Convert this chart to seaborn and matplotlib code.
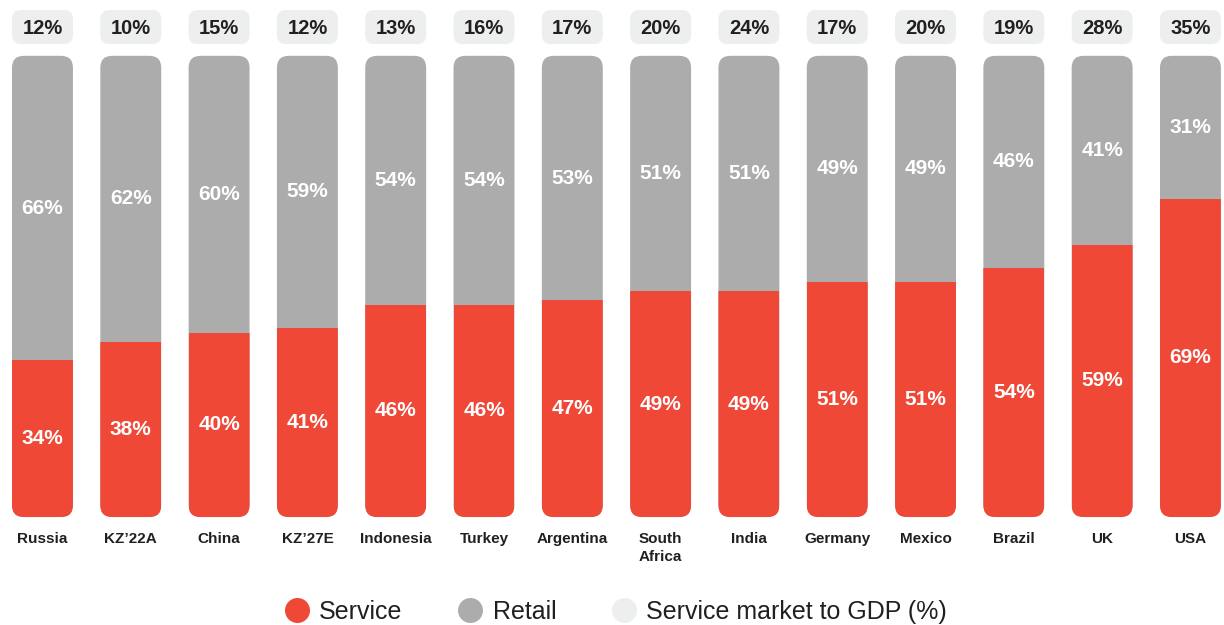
import matplotlib
matplotlib.use("Agg")
import matplotlib.pyplot as plt
import seaborn as sns
import pandas as pd
from matplotlib.patches import FancyBboxPatch
from matplotlib.lines import Line2D

# ---- data ----
countries = ["Russia", "KZ’22A", "China", "KZ’27E", "Indonesia", "Turkey", "Argentina",
             "South\nAfrica", "India", "Germany", "Mexico", "Brazil", "UK", "USA"]
service = [34, 38, 40, 41, 46, 46, 47, 49, 49, 51, 51, 54, 59, 69]
retail = [66, 62, 60, 59, 54, 54, 53, 51, 51, 49, 49, 46, 41, 31]
gdp_share = [12, 10, 15, 12, 13, 16, 17, 20, 24, 17, 20, 19, 28, 35]

RED = "#EF4837"
GRAY = "#ABACAB"
LIGHT = "#EDEEEE"
DARK = "#231F20"

sns.set_theme(style="white")
plt.rcParams['font.family'] = ['Liberation Sans', 'DejaVu Sans']

df = pd.DataFrame({"Country": countries, "Service": service, "Retail": retail})
df["Total"] = df["Service"] + df["Retail"]

fig = plt.figure(figsize=(12.24, 6.25), dpi=100)
ax = fig.add_axes([0, 0, 1, 1])

BW = 0.69
sns.barplot(data=df, x="Country", y="Total", color=GRAY, width=BW, saturation=1, ax=ax)
sns.barplot(data=df, x="Country", y="Service", color=RED, width=BW, saturation=1, ax=ax)

ax.set_xlim(-0.481, 13.38)
ax.set_ylim(-23.4, 112.1)
ax.axis("off")

# pixel scale
fig.canvas.draw()
p0 = ax.transData.transform((0, 0))
p1 = ax.transData.transform((1, 1))
px_x = p1[0] - p0[0]
px_y = p1[1] - p0[1]
aspect = px_x / px_y

n = len(countries)
patches = list(ax.patches)
gray_p = patches[:n]
red_p = patches[n:]

radius_px = 12
for g, rp in zip(gray_p, red_p):
    x0 = g.get_x()
    w = g.get_width()
    h = g.get_height()
    g.set_visible(False)
    rb = FancyBboxPatch((x0, 0), w, h,
                        boxstyle=f"round,pad=0,rounding_size={radius_px / px_x}",
                        mutation_aspect=aspect, facecolor=GRAY, edgecolor="none",
                        linewidth=0, zorder=1)
    ax.add_patch(rb)
    rp.set_edgecolor("none")
    rp.set_linewidth(0)
    rp.set_zorder(2)
    rp.set_clip_path(rb)

# top GDP boxes
box_bottom = (517 - 44) / px_y
box_top = (517 - 10) / px_y
for i, (s, r, gsh) in enumerate(zip(service, retail, gdp_share)):
    x0 = i - BW / 2
    tb = FancyBboxPatch((x0, box_bottom), BW, box_top - box_bottom,
                        boxstyle=f"round,pad=0,rounding_size={9 / px_x}",
                        mutation_aspect=aspect, facecolor=LIGHT, edgecolor="none",
                        linewidth=0, zorder=1)
    ax.add_patch(tb)
    ax.text(i, (box_bottom + box_top) / 2 - 0.3, f"{gsh}%", ha="center", va="center",
            fontsize=14.5, fontweight="bold", color=DARK, zorder=3)
    ax.text(i, s / 2, f"{s}%", ha="center", va="center", fontsize=15,
            fontweight="bold", color="white", zorder=3)
    ax.text(i, s + r / 2, f"{r}%", ha="center", va="center", fontsize=15,
            fontweight="bold", color="white", zorder=3)
    ax.text(i, -3.2, countries[i], ha="center", va="top", fontsize=11,
            fontweight="bold", color=DARK, linespacing=1.4, zorder=3)

handles = [Line2D([0], [0], marker="o", linestyle="none", markersize=18,
                  markerfacecolor=c, markeredgecolor="none") for c in (RED, GRAY, LIGHT)]
labels = ["Service", "Retail", "Service market to GDP (%)"]
leg = ax.legend(handles, labels, loc="center", bbox_to_anchor=(0.503, 0.021),
                ncol=3, frameon=False, fontsize=18, handlelength=1.0,
                handletextpad=0.4, columnspacing=2.2, labelcolor=DARK,
                borderpad=0, borderaxespad=0)

fig.savefig("out.png", dpi=100, facecolor="white")
